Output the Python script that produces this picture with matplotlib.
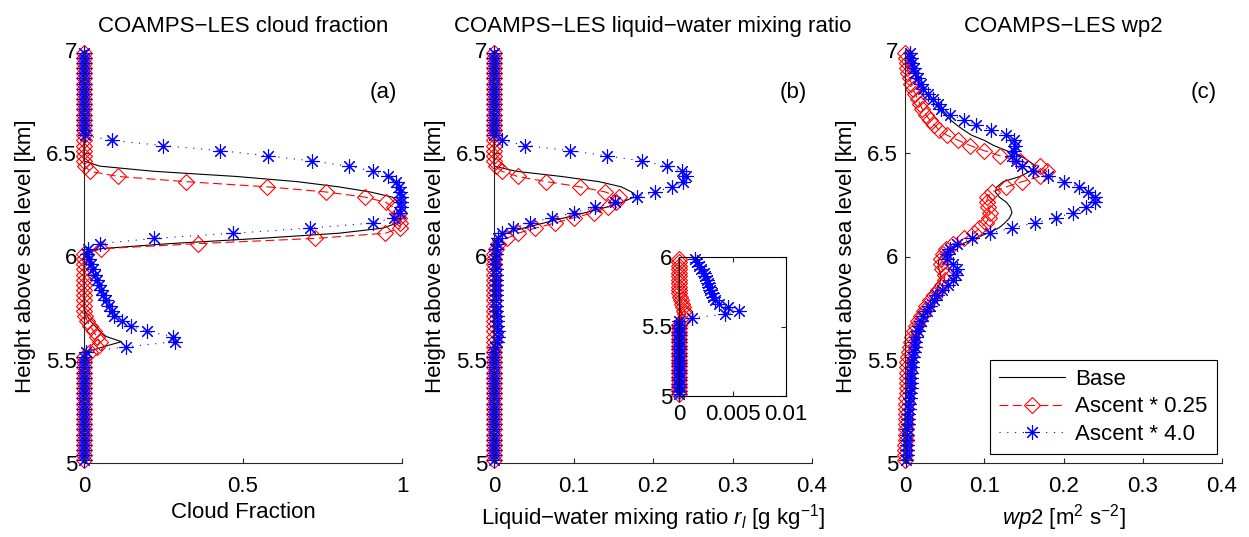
import numpy as np
import matplotlib
matplotlib.use('Agg')
import matplotlib.pyplot as plt

plt.rcParams['font.family'] = ['Liberation Sans', 'DejaVu Sans']
plt.rcParams['mathtext.fontset'] = 'custom'
plt.rcParams['mathtext.rm'] = 'Liberation Sans'
plt.rcParams['mathtext.it'] = 'Liberation Sans:italic'
plt.rcParams['font.size'] = 16

# model levels [km]
z = [5.0125, 5.0375, 5.0625, 5.0875, 5.1125, 5.1375, 5.1625, 5.1875, 5.2125, 5.2375,
     5.2625, 5.2875, 5.3125, 5.3375, 5.3625, 5.3875, 5.4125, 5.4375, 5.4625, 5.4875,
     5.5125, 5.5375, 5.5625, 5.5875, 5.6125, 5.6375, 5.6625, 5.6875, 5.7125, 5.7375,
     5.7625, 5.7875, 5.8125, 5.8375, 5.8625, 5.8875, 5.9125, 5.9375, 5.9625, 5.9875,
     6.0125, 6.0375, 6.0625, 6.0875, 6.1125, 6.1375, 6.1625, 6.1875, 6.2125, 6.2375,
     6.2625, 6.2875, 6.3125, 6.3375, 6.3625, 6.3875, 6.4125, 6.4375, 6.4625, 6.4875,
     6.5125, 6.5375, 6.5625, 6.5875, 6.6125, 6.6375, 6.6625, 6.6875, 6.7125, 6.7375,
     6.7625, 6.7875, 6.8125, 6.8375, 6.8625, 6.8875, 6.9125, 6.9375, 6.9625, 6.9875]

# cloud fraction
cf_base = [0, 0, 0, 0, 0, 0, 0, 0, 0, 0,
           0, 0, 0, 0, 0, 0, 0, 0, 0, 0,
           0, 0.01, 0.06, 0.118, 0.07, 0.05, 0.035, 0.02, 0.01, 0.003,
           0, 0, 0, 0, 0, 0, 0, 0, 0, 0,
           0, 0.05, 0.27, 0.55, 0.8, 0.94, 0.985, 0.995, 0.995, 0.995,
           0.99, 0.97, 0.9, 0.8, 0.67, 0.48, 0.22, 0.05, 0, 0,
           0, 0, 0, 0, 0, 0, 0, 0, 0, 0,
           0, 0, 0, 0, 0, 0, 0, 0, 0, 0]
cf_a025 = [0, 0, 0, 0, 0, 0, 0, 0, 0, 0,
           0, 0, 0, 0, 0, 0, 0, 0, 0, 0,
           0, 0.02, 0.04, 0.05, 0.04, 0.03, 0.02, 0.01, 0.004, 0,
           0, 0, 0, 0, 0, 0, 0, 0, 0, 0,
           0, 0.055, 0.36, 0.726, 0.947, 0.994, 0.995, 0.99, 0.99, 0.975,
           0.949, 0.884, 0.761, 0.575, 0.32, 0.108, 0.019, 0.003, 0, 0,
           0, 0, 0, 0, 0, 0, 0, 0, 0, 0,
           0, 0, 0, 0, 0, 0, 0, 0, 0, 0]
cf_a4 = [0, 0, 0, 0, 0, 0, 0, 0, 0, 0,
         0, 0, 0, 0, 0, 0, 0, 0, 0, 0,
         0, 0.005, 0.132, 0.286, 0.279, 0.197, 0.147, 0.118, 0.095, 0.087,
         0.078, 0.068, 0.061, 0.055, 0.048, 0.042, 0.035, 0.029, 0.022, 0.016,
         0.011, 0.012, 0.05, 0.22, 0.47, 0.71, 0.91, 0.975, 0.995, 0.998,
         0.998, 0.998, 0.995, 0.99, 0.98, 0.957, 0.91, 0.834, 0.718, 0.58,
         0.428, 0.247, 0.087, 0.003, 0, 0, 0, 0, 0, 0,
         0, 0, 0, 0, 0, 0, 0, 0, 0, 0]

# liquid-water mixing ratio [g/kg]
rl_base = [0, 0, 0, 0, 0, 0, 0, 0, 0, 0,
           0, 0, 0, 0, 0, 0, 0, 0, 0, 0,
           0, 0, 0.0002, 0.0003, 0.0002, 0.0001, 0.0001, 0, 0, 0,
           0, 0, 0, 0, 0, 0, 0, 0, 0, 0,
           0, 0, 0, 0.003, 0.016, 0.037, 0.063, 0.089, 0.115, 0.14,
           0.161, 0.176, 0.173, 0.16, 0.132, 0.085, 0.028, 0, 0, 0,
           0, 0, 0, 0, 0, 0, 0, 0, 0, 0,
           0, 0, 0, 0, 0, 0, 0, 0, 0, 0]
rl_a025 = [0, 0, 0, 0, 0, 0, 0, 0, 0, 0,
           0, 0, 0, 0, 0, 0, 0, 0, 0, 0,
           0, 0.0003, 0.0005, 0.0006, 0.0005, 0.0004, 0.0003, 0.0002, 0.0001, 0,
           0, 0, 0, 0, 0, 0, 0, 0, 0, 0,
           0, 0.002, 0.005, 0.016, 0.03, 0.052, 0.077, 0.1, 0.126, 0.143,
           0.154, 0.157, 0.14, 0.108, 0.066, 0.03, 0.01, 0.002, 0, 0,
           0, 0, 0, 0, 0, 0, 0, 0, 0, 0,
           0, 0, 0, 0, 0, 0, 0, 0, 0, 0]
rl_a4 = [0, 0, 0, 0, 0, 0, 0, 0, 0, 0,
         0, 0, 0, 0, 0, 0, 0, 0, 0, 0,
         0, 0, 0.0012, 0.0043, 0.0056, 0.0046, 0.0037, 0.0034, 0.0032, 0.0031,
         0.0029, 0.0028, 0.0027, 0.0026, 0.0024, 0.0023, 0.0021, 0.0019, 0.0017, 0.0015,
         0.002, 0.003, 0.004, 0.005, 0.01, 0.024, 0.045, 0.073, 0.1, 0.127,
         0.152, 0.18, 0.203, 0.224, 0.238, 0.242, 0.236, 0.217, 0.186, 0.142,
         0.096, 0.039, 0.01, 0, 0, 0, 0, 0, 0, 0,
         0, 0, 0, 0, 0, 0, 0, 0, 0, 0]

# vertical velocity variance [m2/s2]
wp2_base = [0.001, 0.001, 0.002, 0.002, 0.002, 0.003, 0.003, 0.003, 0.004, 0.004,
            0.004, 0.005, 0.005, 0.005, 0.006, 0.006, 0.007, 0.007, 0.008, 0.008,
            0.009, 0.01, 0.011, 0.012, 0.013, 0.015, 0.017, 0.019, 0.022, 0.025,
            0.028, 0.032, 0.036, 0.04, 0.043, 0.045, 0.045, 0.043, 0.042, 0.043,
            0.048, 0.058, 0.073, 0.088, 0.104, 0.118, 0.126, 0.132, 0.135, 0.133,
            0.128, 0.119, 0.114, 0.116, 0.124, 0.145, 0.158, 0.165, 0.156, 0.146,
            0.128, 0.112, 0.1, 0.084, 0.074, 0.065, 0.057, 0.05, 0.044, 0.038,
            0.032, 0.027, 0.023, 0.019, 0.015, 0.012, 0.009, 0.006, 0.004, 0.002]
wp2_a025 = [0, 0, 0, 0, 0.001, 0.001, 0.001, 0.001, 0.001, 0.001,
            0.001, 0.001, 0.001, 0.002, 0.002, 0.002, 0.002, 0.003, 0.003, 0.003,
            0.004, 0.005, 0.006, 0.007, 0.009, 0.011, 0.014, 0.017, 0.02, 0.024,
            0.027, 0.032, 0.037, 0.042, 0.047, 0.05, 0.05, 0.047, 0.045, 0.046,
            0.048, 0.052, 0.061, 0.075, 0.087, 0.094, 0.102, 0.106, 0.107, 0.105,
            0.103, 0.104, 0.11, 0.128, 0.148, 0.17, 0.179, 0.17, 0.145, 0.12,
            0.1, 0.082, 0.067, 0.053, 0.043, 0.037, 0.031, 0.026, 0.022, 0.019,
            0.016, 0.013, 0.01, 0.008, 0.006, 0.004, 0.003, 0.002, 0.001, 0]
wp2_a4 = [0.001, 0.002, 0.002, 0.002, 0.003, 0.003, 0.003, 0.004, 0.004, 0.004,
          0.005, 0.005, 0.006, 0.006, 0.007, 0.007, 0.008, 0.008, 0.009, 0.009,
          0.01, 0.011, 0.012, 0.013, 0.014, 0.016, 0.018, 0.02, 0.023, 0.028,
          0.031, 0.036, 0.041, 0.047, 0.054, 0.06, 0.064, 0.066, 0.06, 0.053,
          0.053, 0.057, 0.066, 0.084, 0.107, 0.135, 0.164, 0.191, 0.212, 0.229,
          0.24, 0.24, 0.231, 0.219, 0.2, 0.181, 0.162, 0.148, 0.14, 0.135,
          0.137, 0.139, 0.137, 0.128, 0.109, 0.09, 0.074, 0.057, 0.046, 0.042,
          0.035, 0.029, 0.023, 0.02, 0.016, 0.013, 0.011, 0.009, 0.007, 0.006]

labels = ['Base', 'Ascent * 0.25', 'Ascent * 4.0']
ytick_vals = [5, 5.5, 6, 6.5, 7]
ytick_lbls = ['5', '5.5', '6', '6.5', '7']

AXC = '#262626'
W, H = 1249, 537

RED = dict(ls=(0, (8, 4)), color='r', lw=0.8, marker='D', ms=8,
           mfc='none', mec='r', mew=0.8, clip_on=False)
BLUE = dict(ls=(0, (1, 6)), color='b', lw=0.8, marker=(8, 2, 0), ms=10.5,
            mec='b', mew=0.8, clip_on=False)


def style_axes(ax, box=False):
    for s in ['top', 'right']:
        ax.spines[s].set_visible(box)
    for s in ax.spines.values():
        s.set_color(AXC if not box else 'k')
        s.set_linewidth(0.8)
    ax.tick_params(direction='in', length=3.5, width=0.8, color=AXC,
                   top=box, right=box)
    ax.tick_params(axis='x', pad=9)
    ax.tick_params(axis='y', pad=5)
    ax.set_facecolor('none')


def draw(ax, base, a025, a4, n=None):
    zz = z[:n]
    ax.plot(base[:n], zz, '-', color='k', lw=0.8, clip_on=False, label=labels[0])
    ax.plot(a025[:n], zz, label=labels[1], **RED)
    ax.plot(a4[:n], zz, label=labels[2], **BLUE)


def panel(rect, base, a025, a4, xmax, xticks, xtlbl, title, xlabel, tag):
    ax = fig.add_axes(rect)
    draw(ax, base, a025, a4)
    ax.set_xlim(0, xmax)
    ax.set_ylim(5, 7)
    ax.set_xticks(xticks)
    ax.set_xticklabels(xtlbl)
    ax.set_yticks(ytick_vals)
    ax.set_yticklabels(ytick_lbls)
    style_axes(ax)
    ax.set_title(title, pad=13, fontsize=16)
    ax.set_xlabel(xlabel, labelpad=4)
    ax.set_ylabel('Height above sea level [km]', labelpad=7)
    ax.text(0.942, 0.897, tag, transform=ax.transAxes, ha='center', va='center')
    return ax


fig = plt.figure(figsize=(W / 100, H / 100), dpi=100)

ax_a = panel([84 / W, 74 / H, 318 / W, 413 / H], cf_base, cf_a025, cf_a4,
             1, [0, 0.5, 1], ['0', '0.5', '1'],
             'COAMPS\u2212LES cloud fraction', 'Cloud Fraction', '(a)')

ax_b = panel([494 / W, 74 / H, 318 / W, 413 / H], rl_base, rl_a025, rl_a4,
             0.4, [0, 0.1, 0.2, 0.3, 0.4], ['0', '0.1', '0.2', '0.3', '0.4'],
             'COAMPS\u2212LES liquid\u2212water mixing ratio',
             'Liquid\u2212water mixing ratio $r_l$ [g kg$^{-1}$]', '(b)')

ax_c = panel([905 / W, 74 / H, 317 / W, 413 / H], wp2_base, wp2_a025, wp2_a4,
             0.4, [0, 0.1, 0.2, 0.3, 0.4], ['0', '0.1', '0.2', '0.3', '0.4'],
             'COAMPS\u2212LES wp2', r'$\mathit{wp2}$ [m$^2$ s$^{-2}$]', '(c)')

# zoom on the sub-cloud tail of r_l (levels up to 6 km only)
n_low = sum(1 for h in z if h <= 6.0)
ins = fig.add_axes([679 / W, 141 / H, 107 / W, 139 / H])
ins.set_facecolor('white')
draw(ins, rl_base, rl_a025, rl_a4, n=n_low)
ins.set_xlim(0, 0.01)
ins.set_ylim(5, 6)
ins.set_xticks([0, 0.005, 0.01])
ins.set_xticklabels(['0', '0.005', '0.01'])
ins.set_yticks([5, 5.5, 6])
ins.set_yticklabels(['5', '5.5', '6'])
style_axes(ins, box=True)
ins.set_facecolor('white')
ins.tick_params(axis='x', pad=6)

leg = ax_c.legend(loc='lower right', bbox_to_anchor=(0.983, 0.022),
                  borderaxespad=0, fancybox=False, framealpha=1,
                  edgecolor='k', handlelength=3.0, handletextpad=0.45,
                  labelspacing=0.3, borderpad=0.4, fontsize=16)
leg.get_frame().set_linewidth(0.8)

fig.savefig('out.png', dpi=100)
